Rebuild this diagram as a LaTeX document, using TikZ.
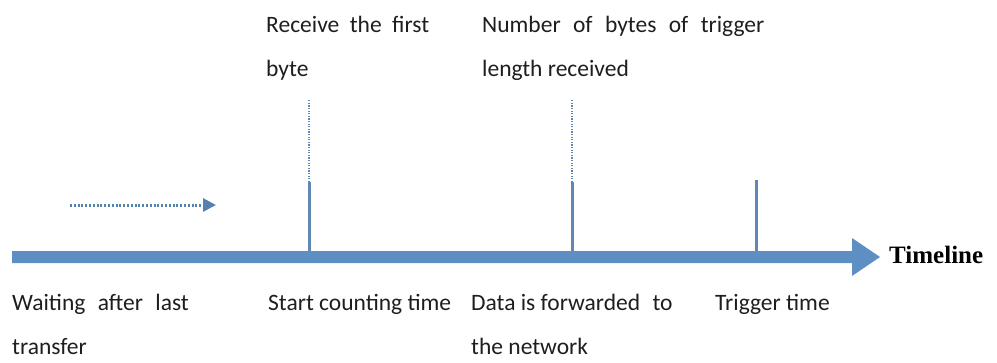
\documentclass[tikz,border=0pt]{standalone}
\usepackage{fontspec}
\setmainfont{Carlito}
\newfontfamily\tlfont{Liberation Serif}
\usetikzlibrary{arrows.meta}
\definecolor{barblue}{HTML}{5E8FC3}
\definecolor{tickblue}{HTML}{6088B4}
\definecolor{txt}{HTML}{1E1E1E}
\begin{document}
\begin{tikzpicture}[x=1pt,y=-1pt,
  lbl/.style={inner sep=0pt, anchor=base west, align=left, text=txt,
     font=\fontsize{23.5}{44}\selectfont},
  tick/.style={tickblue, line width=3pt},
  dotline/.style={tickblue, line width=2.4pt, dash pattern=on 1.3pt off 1.3pt},
]
\useasboundingbox (0,0) rectangle (997,362);
% timeline arrow
\fill[barblue] (12,251) -- (852,251) -- (852,238) -- (880,257) -- (852,276) -- (852,263) -- (12,263) -- cycle;
\coordinate (tlend) at (880,257);
\node[inner sep=0pt, anchor=base west, font=\tlfont\fontsize{25}{30}\selectfont\bfseries] (tl) at (889,263) {Timeline};
% ticks
\coordinate (t1b) at (309,251); \coordinate (t1m) at (309,182); \coordinate (t1t) at (309,100);
\coordinate (t2b) at (572,251); \coordinate (t2m) at (572,182); \coordinate (t2t) at (572,100);
\coordinate (t3b) at (756,251); \coordinate (t3t) at (756,180);
\draw[tick] (t1b) -- (t1m);
\draw[dotline] (t1m) -- (t1t);
\draw[tick] (t2b) -- (t2m);
\draw[dotline] (t2m) -- (t2t);
\draw[tick] (t3b) -- (t3t);
% waiting arrow
\coordinate (wa) at (70,205); \coordinate (wb) at (216,205);
\draw[barblue!90!black, line width=3pt, dash pattern=on 2pt off 1.8pt,
  -{Triangle[length=13pt,width=13pt]}] (wa) -- (wb);
% labels (anchor = baseline of last line)
\node[lbl] (l1) at (266,76) {Receive\hspace{0.22em} the\hspace{0.22em} first\\byte};
\node[lbl] (l2) at (482,76) {Number\hspace{0.3em} of\hspace{0.3em} bytes\hspace{0.3em} of\hspace{0.3em} trigger\\length received};
\node[lbl] (b0) at (12,354) {Waiting\hspace{0.3em} after\hspace{0.3em} last\\transfer};
\node[lbl] (b1) at (268,310) {Start counting time};
\node[lbl] (b2) at (471,354) {Data is forwarded\hspace{0.3em} to\\the network};
\node[lbl] (b3) at (715,310) {Trigger time};
\end{tikzpicture}
\end{document}
